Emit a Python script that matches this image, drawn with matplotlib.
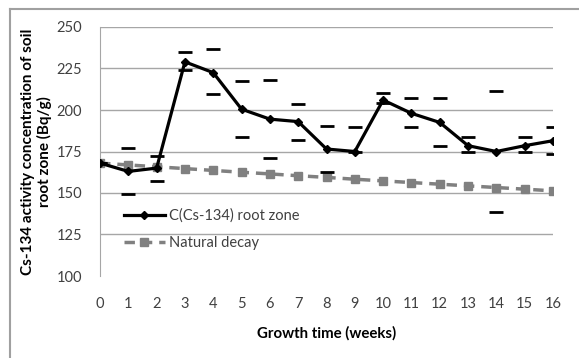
import numpy as np
import matplotlib
matplotlib.use("Agg")
from matplotlib import pyplot as plt
from matplotlib.lines import Line2D

plt.rcParams['font.family'] = ['Lato', 'DejaVu Sans']

# data
weeks = list(range(17))
root_zone = [168, 163, 165, 229, 222.5, 200.5, 194.5, 193, 176.5, 175, 206, 198, 192.5, 178.5, 175, 178.5, 181.5]
err_upper = [168, 177.3, 172.5, 234.7, 236.5, 217.7, 217.9, 203.6, 190.5, 190, 210, 207, 207, 183.6, 211.6, 183.6, 189.6]
err_lower = [168, 149.4, 157.4, 224, 209.5, 183.6, 171.3, 182, 162.8, 175, 204.4, 189.6, 178.5, 174.5, 138.7, 174.5, 173.5]
natural_decay = [168, 166.9, 165.8, 164.7, 163.6, 162.5, 161.5, 160.4, 159.4, 158.3, 157.3, 156.3, 155.3, 154.3, 153.3, 152.3, 151.3]

fig = plt.figure(figsize=(5.79, 3.58), dpi=100)
ax = fig.add_axes([100/579, 82/358, 453/579, 249/358])

# outer frame (left + top only visible)
fig.add_artist(Line2D([10/579, 10/579], [0, 1 - 9/358], transform=fig.transFigure, color='#a0a0a0', lw=1.5))
fig.add_artist(Line2D([10/579, 1], [1 - 9/358, 1 - 9/358], transform=fig.transFigure, color='#a0a0a0', lw=1.5))

for v in [125, 150, 175, 200, 225, 250]:
    ax.axhline(v, color='#a6a6a6', lw=1, zorder=0)

ax.plot(weeks, natural_decay, color='#808080', lw=2.5, ls=(0, (3, 2)), marker='s', ms=6,
        label='Natural decay', zorder=2)

lo = np.array(root_zone) - np.array(err_lower)
hi = np.array(err_upper) - np.array(root_zone)
ax.errorbar(weeks, root_zone, yerr=[lo, hi], fmt='none', ecolor='black', elinewidth=0,
            capsize=5, capthick=2, zorder=3)
ax.plot(weeks, root_zone, color='black', lw=2.3, marker='D', ms=4,
        label='C(Cs-134) root zone', zorder=4)

ax.set_xlim(0, 16)
ax.set_ylim(100, 250)
ax.set_xticks(weeks)
ax.set_yticks([100, 125, 150, 175, 200, 225, 250])
ax.tick_params(length=0, labelsize=10.5, colors='#404040')
ax.tick_params(axis='x', pad=15)
ax.tick_params(axis='y', pad=13)
for s in ['top', 'right', 'bottom']:
    ax.spines[s].set_visible(False)
ax.spines['left'].set_color('#a6a6a6')

ax.set_xlabel('Growth time (weeks)', fontsize=10.8, fontweight='bold', labelpad=11)
ax.set_ylabel('Cs-134 activity concentration of soil\nroot zone (Bq/g)', fontsize=11,
              fontweight='bold', labelpad=3, linespacing=1.15)

handles, labels = ax.get_legend_handles_labels()
ax.legend(handles[::-1], labels[::-1], loc='lower left', bbox_to_anchor=(0.04, 0.08),
          frameon=False, fontsize=10.5, handlelength=2.8, labelcolor='#404040',
          labelspacing=0.9, handletextpad=0.3, borderaxespad=0)

fig.savefig('out.png', dpi=100)
